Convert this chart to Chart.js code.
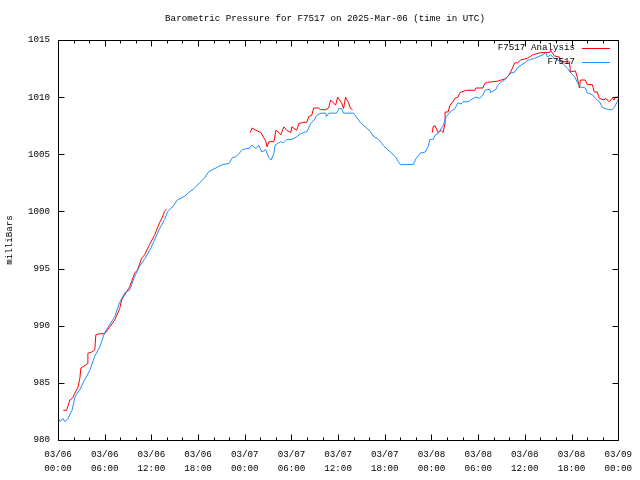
<!DOCTYPE html>
<html>
<head>
<meta charset="utf-8">
<script src="https://cdn.jsdelivr.net/npm/chart.js@4/dist/chart.umd.min.js"></script>
<style>
  html, body { margin: 0; padding: 0; background: #ffffff; }
  #wrap { width: 640px; height: 480px; position: relative; }
</style>
</head>
<body>
<div id="wrap"><canvas id="c" width="640" height="480"></canvas></div>
<script>
// ---- DATA (hours since 2025-03-06 00:00 UTC) ----
const chartTitle = "Barometric Pressure for F7517 on 2025-Mar-06 (time in UTC)";
const yAxisTitle = "milliBars";
const seriesNames = ["F7517 Analysis", "F7517"];

const tickDays  = ["03/06","03/06","03/06","03/06","03/07","03/07","03/07","03/07","03/08","03/08","03/08","03/08","03/09"];
const tickTimes = ["00:00","06:00","12:00","18:00","00:00","06:00","12:00","18:00","00:00","06:00","12:00","18:00","00:00"];

const stationHours = [
  0.0,0.3,0.6,0.9,1.3,1.8,2.2,2.8,3.45,4.1,4.7,5.4,6.0,6.65,7.3,7.9,8.6,9.2,9.85,10.5,
  11.1,11.8,12.4,13.0,13.7,14.1,14.6,15.35,16.2,16.9,17.5,18.2,18.8,19.4,20.3,21.1,22.0,22.4,22.9,23.3,
  23.7,24.2,24.6,24.9,25.45,25.8,26.2,26.7,27.1,27.4,27.75,27.9,28.6,29.0,29.4,30.05,30.6,31.2,32.0,32.5,
  32.9,33.25,33.8,34.4,34.5,34.8,35.8,36.1,36.45,36.7,38.0,38.4,38.9,39.5,40.15,40.5,41.2,41.8,42.2,42.7,
  43.35,43.7,44.0,45.65,46.0,46.55,47.2,47.6,47.8,48.2,48.5,48.85,49.1,49.5,49.9,50.4,51.0,51.4,51.8,52.05,
  52.7,53.3,53.7,54.2,54.6,54.9,55.5,55.6,56.3,56.5,56.9,57.4,57.8,58.2,58.7,59.1,59.5,60.0,60.4,60.6,
  61.25,61.6,62.3,62.7,62.9,63.3,63.8,64.2,64.6,65.1,65.5,65.9,66.4,66.75,67.1,67.8,68.0,68.7,69.05,69.6,
  69.95,70.3,70.8,71.2,71.5,71.87,72.0
];
const stationValues = [
  981.9,981.6,981.9,981.6,981.9,982.6,983.8,984.4,985.3,986.1,987.3,988.2,989.4,990.1,990.8,992.0,992.9,993.1,994.3,995.2,
  995.8,996.6,997.5,998.4,999.3,1000.0,1000.3,1001.0,1001.3,1001.7,1002.0,1002.5,1002.9,1003.5,1003.8,1004.1,1004.2,1004.7,1004.8,1005.1,
  1005.4,1005.5,1005.5,1005.8,1005.5,1005.8,1005.2,1005.4,1004.7,1004.5,1005.1,1005.8,1006.1,1006.0,1006.3,1006.3,1006.5,1006.8,1007.0,1007.7,
  1008.0,1008.4,1008.6,1008.6,1008.3,1008.6,1008.6,1009.0,1009.0,1008.6,1008.6,1008.2,1007.75,1007.4,1007.0,1006.6,1006.3,1005.8,1005.5,1005.2,
  1004.8,1004.4,1004.1,1004.1,1004.6,1005.1,1005.2,1005.7,1006.3,1006.3,1006.7,1006.8,1007.1,1007.5,1008.3,1008.7,1009.0,1009.5,1009.4,1009.6,
  1009.6,1009.85,1010.0,1009.9,1010.2,1010.6,1010.7,1010.4,1010.7,1011.0,1011.3,1011.5,1011.8,1012.1,1012.2,1012.6,1012.8,1013.0,1013.25,1013.25,
  1013.4,1013.5,1013.7,1013.9,1013.5,1013.7,1013.4,1013.25,1013.1,1012.8,1012.5,1012.1,1011.8,1011.3,1010.9,1010.8,1010.4,1010.2,1009.9,1009.6,
  1009.1,1009.0,1008.9,1008.9,1009.1,1009.6,1009.8
];

const analysisHours = [
  0.68,1.1,1.53,1.9,2.17,2.56,2.81,2.94,3.2,3.84,3.84,4.35,4.73,4.86,5.37,6.01,6.65,7.29,7.93,8.18,
  8.57,9.21,9.85,10.23,10.74,11.13,11.76,12.40,13.04,13.43,13.68,13.94,
  19.0,
  24.7,24.94,25.45,26.09,26.73,26.86,27.11,27.75,28.0,28.39,28.64,29.03,29.41,29.92,30.05,30.69,30.95,31.59,
  31.97,32.23,32.61,32.86,33.5,33.76,34.4,34.78,35.04,35.68,35.94,36.45,36.7,36.96,37.34,37.6,37.86,
  43.0,
  48.1,48.21,48.47,48.85,49.23,49.49,49.74,49.75,50.13,50.38,50.77,51.02,51.41,51.66,52.05,52.43,53.58,53.71,54.6,54.86,
  55.24,56.52,57.42,57.8,58.18,58.7,59.08,59.46,60.36,61.0,62.02,63.17,63.3,63.81,64.45,64.58,65.73,65.86,66.5,66.75,
  67.01,67.14,67.77,68.03,68.67,68.93,69.31,69.57,70.2,70.33,70.84,71.23,71.48,71.61,72.0
];
const analysisValues = [
  982.6,982.6,983.5,983.7,984.1,984.6,985.4,986.3,986.4,986.7,987.6,987.7,987.9,989.2,989.3,989.3,989.9,990.5,991.5,992.25,
  992.7,993.4,994.6,994.9,995.9,996.2,997.1,997.9,999.0,999.5,1000.0,1000.2,
  null,
  1006.9,1007.3,1007.1,1006.9,1006.1,1005.65,1006.1,1006.1,1007.1,1006.9,1006.7,1007.4,1007.1,1006.9,1007.4,1007.1,1007.7,1007.8,
  1007.8,1008.3,1008.4,1009.05,1009.05,1008.9,1008.9,1009.05,1009.75,1009.3,1010.0,1009.5,1009.0,1010.0,1009.5,1009.0,1008.9,
  null,
  1006.9,1007.4,1007.5,1006.9,1007.1,1006.9,1007.7,1008.7,1008.7,1009.3,1009.6,1009.9,1010.0,1010.4,1010.5,1010.6,1010.6,1010.8,1010.8,1011.2,
  1011.3,1011.4,1011.6,1011.8,1012.2,1013.0,1013.0,1013.25,1013.4,1013.7,1013.9,1013.9,1014.1,1013.6,1013.5,1013.1,1013.1,1012.2,1012.3,1011.7,
  1010.8,1011.5,1011.5,1011.1,1011.1,1010.45,1010.45,1009.9,1009.75,1009.9,1009.6,1009.9,1009.75,1010.0,1010.0
];

// ---- Build chart ----
const FONT = "'Liberation Mono', 'DejaVu Sans Mono', monospace";
const FSIZE = 9.2;
const RED = "#ff0000";
const BLUE = "#1e90ff";

function pts(xs, ys) { return xs.map((x, i) => ({ x: x, y: ys[i] })); }

const gnuplotDecor = {
  id: 'gnuplotDecor',
  afterDraw(chart) {
    const ctx = chart.ctx;
    const a = chart.chartArea;
    const xs = chart.scales.x, ys = chart.scales.y;
    ctx.save();
    // border
    ctx.strokeStyle = '#000';
    ctx.lineWidth = 1;
    const L = Math.round(a.left) + 0.5, R = Math.round(a.right) + 0.5;
    const T = Math.round(a.top) + 0.5, B = Math.round(a.bottom) + 0.5;
    ctx.beginPath();
    ctx.rect(L, T, R - L, B - T);
    ctx.stroke();
    // x ticks: major every 6h, minor every 2h, mirrored top/bottom, inward
    ctx.beginPath();
    for (let h = xs.min; h <= xs.max + 1e-6; h += 2) {
      const px = Math.round(xs.getPixelForValue(h)) + 0.5;
      const len = (Math.abs(h % 6) < 1e-6) ? 6 : 3;
      ctx.moveTo(px, B); ctx.lineTo(px, B - len);
      ctx.moveTo(px, T); ctx.lineTo(px, T + len);
    }
    // y ticks: every 5, mirrored left/right, inward
    for (let v = ys.min; v <= ys.max + 1e-6; v += 5) {
      const py = Math.round(ys.getPixelForValue(v)) + 0.5;
      ctx.moveTo(L, py); ctx.lineTo(L + 6, py);
      ctx.moveTo(R, py); ctx.lineTo(R - 6, py);
    }
    ctx.stroke();

    // title
    ctx.fillStyle = '#000';
    ctx.font = FSIZE + 'px ' + FONT;
    ctx.textAlign = 'center';
    ctx.textBaseline = 'middle';
    ctx.fillText(chartTitle, 325, 19);

    // y axis title
    ctx.save();
    ctx.translate(10, 240);
    ctx.rotate(-Math.PI / 2);
    ctx.fillText(yAxisTitle, 0, 0);
    ctx.restore();

    // legend (gnuplot style, top-right inside)
    const colors = [RED, BLUE];
    const rows = [48, 62];
    ctx.textAlign = 'right';
    for (let i = 0; i < seriesNames.length; i++) {
      ctx.fillStyle = '#000';
      ctx.fillText(seriesNames[i], 575, rows[i]);
      ctx.strokeStyle = colors[i];
      ctx.beginPath();
      ctx.moveTo(582, rows[i] + 0.5);
      ctx.lineTo(610, rows[i] + 0.5);
      ctx.stroke();
    }
    ctx.restore();
  }
};

new Chart(document.getElementById('c'), {
  type: 'line',
  data: {
    datasets: [
      {
        label: seriesNames[0],
        data: pts(analysisHours, analysisValues),
        borderColor: RED, borderWidth: 1, pointRadius: 0, tension: 0,
        spanGaps: false, order: 1, fill: false
      },
      {
        label: seriesNames[1],
        data: pts(stationHours, stationValues),
        borderColor: BLUE, borderWidth: 1, pointRadius: 0, tension: 0,
        order: 0, fill: false
      }
    ]
  },
  options: {
    responsive: false,
    animation: false,
    devicePixelRatio: 1,
    layout: { padding: { left: 0, right: 19, top: 40, bottom: 0 } },
    plugins: { legend: { display: false }, title: { display: false }, tooltip: { enabled: false } },
    scales: {
      x: {
        type: 'linear', min: 0, max: 72,
        grid: { display: false, drawTicks: false },
        border: { display: false },
        afterFit(s) { s.height = 40; },
        afterBuildTicks(s) {
          s.ticks = tickDays.map((d, i) => ({ value: i * 6 }));
        },
        ticks: {
          autoSkip: false, maxRotation: 0, minRotation: 0, padding: 8,
          color: '#000',
          font: { family: FONT, size: FSIZE, lineHeight: 1.52 },
          callback(v, i) { return [tickDays[i], tickTimes[i]]; }
        }
      },
      y: {
        type: 'linear', min: 980, max: 1015,
        grid: { display: false, drawTicks: false },
        border: { display: false },
        afterFit(s) { s.width = 58; },
        ticks: {
          stepSize: 5, padding: 8, color: '#000',
          font: { family: FONT, size: FSIZE },
          callback(v) { return String(v); }
        }
      }
    }
  },
  plugins: [gnuplotDecor]
});
</script>
</body>
</html>
